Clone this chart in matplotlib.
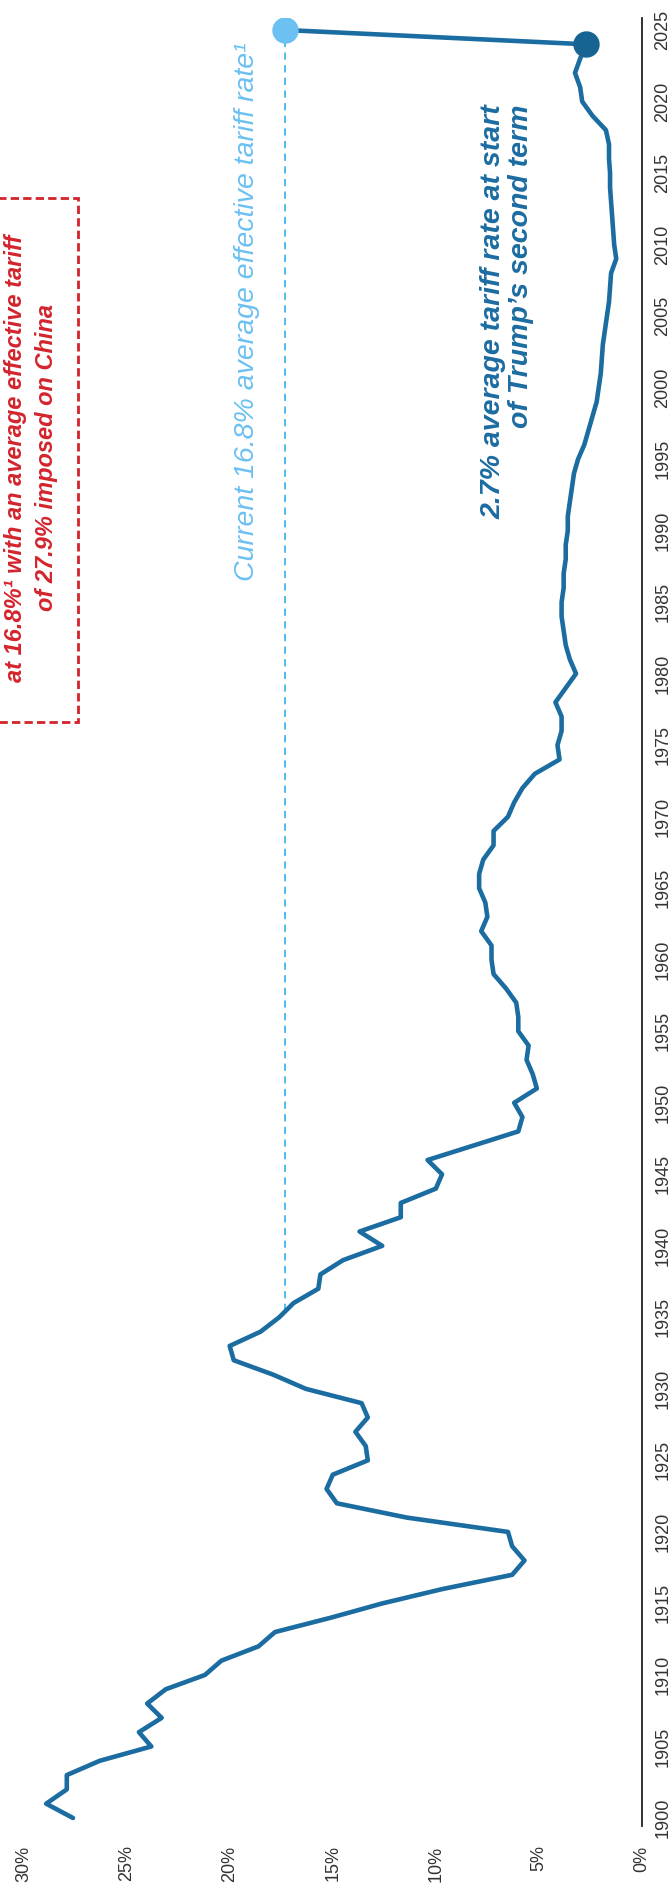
import numpy as np
import matplotlib
matplotlib.use("Agg")
import matplotlib.pyplot as plt
from matplotlib.patches import Rectangle

# US average effective tariff rate (%)
years = list(range(1900, 2025))
rate = [
    27.6, 28.9, 27.9, 27.9, 26.3, 23.8, 24.4, 23.3, 24.0, 23.1,   # 1900s
    21.2, 20.4, 18.6, 17.8, 15.1, 12.6, 9.7, 6.3, 5.7, 6.3,       # 1910s
    6.5, 11.4, 14.8, 15.3, 15.0, 13.3, 13.4, 13.9, 13.3, 13.6,    # 1920s
    16.3, 17.9, 19.8, 20.0, 18.5, 17.6, 16.9, 15.7, 15.6, 14.5,   # 1930s
    12.6, 13.7, 11.7, 11.7, 10.0, 9.7, 10.4, 8.2, 6.0, 5.8,       # 1940s
    6.2, 5.1, 5.3, 5.6, 5.5, 6.0, 6.0, 6.1, 6.6, 7.2,             # 1950s
    7.3, 7.3, 7.8, 7.5, 7.6, 7.9, 7.9, 7.7, 7.2, 7.2,             # 1960s
    6.5, 6.2, 5.8, 5.2, 4.0, 4.1, 3.9, 3.9, 4.2, 3.7,             # 1970s
    3.2, 3.5, 3.7, 3.8, 3.9, 3.9, 3.8, 3.8, 3.7, 3.7,             # 1980s
    3.6, 3.6, 3.5, 3.4, 3.3, 3.1, 2.8, 2.6, 2.4, 2.2,             # 1990s
    2.1, 2.0, 1.95, 1.9, 1.8, 1.7, 1.6, 1.55, 1.5, 1.25,          # 2000s
    1.35, 1.4, 1.45, 1.5, 1.55, 1.55, 1.6, 1.6, 1.75, 2.4,        # 2010s
    2.9, 3.0, 3.25, 3.0, 2.7,                                     # 2020s
]
# the 2025 dot sits a little left of 16.8 on the chart's own scale
current_year = 2025
current_rate = 17.3
start_year = 2024
start_rate = 2.7

pct_ticks = [0, 5, 10, 15, 20, 25, 30]
pct_labels = ["0%", "5%", "10%", "15%", "20%", "25%", "30%"]
year_ticks = list(range(1900, 2030, 5))

LINE = "#1b6ca1"
DARK = "#176392"
LIGHT = "#6cc0f2"
DASH = "#3fb6ef"
RED = "#d3242c"

plt.rcParams['font.family'] = ['Liberation Sans', 'DejaVu Sans']

W, H = 671, 1886
fig = plt.figure(figsize=(W / 100, H / 100), dpi=100)

def px(x, y):
    # pixel position (from top-left) -> figure fraction
    return x / W, 1 - y / H

# axes: 30% at x=23.5px, 0% at x=642px; plot runs from y=18px to y=1826px
ax = fig.add_axes([23.5 / W, (H - 1826) / H, (642 - 23.5) / W, (1826 - 18) / H])
ax.set_xlim(30, 0)
ax.set_ylim(1899.44, 2025.84)

# the whole chart is turned on its side: rate across, years upward
xs = np.array(rate + [current_rate], dtype=float)
ys = np.array(years + [current_year], dtype=float)
ax.plot(xs, ys, color=LINE, linewidth=3.3, solid_joinstyle='round',
        solid_capstyle='round', zorder=3)

# dashed guide down from the current rate until it meets the history line
i0 = years.index(1934)
yy = np.array(years[i0:i0 + 5], dtype=float)
rr = np.array(rate[i0:i0 + 5])
cross = np.interp(current_rate, rr[::-1], yy[::-1])
ax.plot([current_rate, current_rate], [cross, current_year], color=DASH,
        lw=1.3, ls=(0, (4, 3)), zorder=2)

ax.plot([current_rate], [current_year], 'o', ms=19, color=LIGHT, mec='none', zorder=5)
ax.plot([start_rate], [start_year], 'o', ms=19, color=DARK, mec='none', zorder=5)

for s in ['top', 'left', 'bottom']:
    ax.spines[s].set_visible(False)
ax.spines['right'].set_color('#222222')
ax.spines['right'].set_linewidth(1.3)

ax.set_xticks(pct_ticks)
ax.set_xticklabels(pct_labels, rotation=90, va='top', ha='center',
                   fontsize=13, color='#333333')
ax.tick_params(axis='x', length=0, pad=14)

ax.yaxis.tick_right()
ax.set_yticks(year_ticks)
ax.set_yticklabels([str(y) for y in year_ticks], rotation=90, va='center',
                   ha='left', fontsize=13, color='#333333')
ax.tick_params(axis='y', length=0, pad=9)

# annotations
fig.text(*px(247, 42), "Current 16.8% average effective tariff rate\u00b9",
         rotation=90, rotation_mode='anchor', ha='right', va='center',
         fontsize=20.5, style='italic', color=LIGHT)

fig.text(*px(507, 104), "2.7% average tariff rate at start\nof Trump\u2019s second term",
         rotation=90, rotation_mode='anchor', ha='right', va='center',
         multialignment='right', linespacing=1.1,
         fontsize=20.5, style='italic', weight='bold', color=LINE)

fig.text(*px(31, 458), "at 16.8%\u00b9 with an average effective tariff\nof 27.9% imposed on China",
         rotation=90, rotation_mode='anchor', ha='center', va='center',
         multialignment='center', linespacing=1.4,
         fontsize=17, style='italic', weight='bold', color=RED)

x0, y0 = px(-10, 722)
x1, y1 = px(78, 198)
fig.patches.append(Rectangle((x0, y0), x1 - x0, y1 - y0, transform=fig.transFigure,
                             fill=False, ec=RED, lw=2.0, ls=(0, (3, 1.5))))

fig.savefig("out.png", dpi=100)
